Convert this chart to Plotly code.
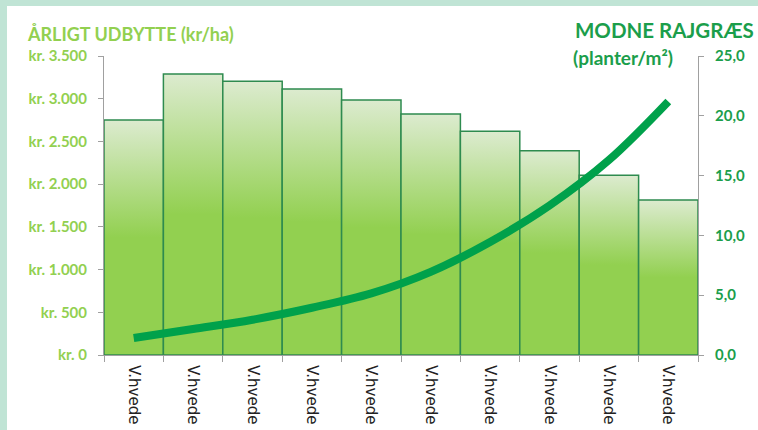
import plotly.graph_objects as go

categories = ["V.hvede"] * 10
yield_kr = [2750, 3290, 3205, 3115, 2985, 2820, 2620, 2390, 2105, 1815]
ryegrass = [1.42, 2.17, 2.95, 3.95, 5.15, 6.95, 9.45, 12.5, 16.3, 21.2]
left_ticks = [0, 500, 1000, 1500, 2000, 2500, 3000, 3500]
left_labels = ["kr. 0", "kr. 500", "kr. 1.000", "kr. 1.500", "kr. 2.000",
               "kr. 2.500", "kr. 3.000", "kr. 3.500"]
right_ticks = [0, 5, 10, 15, 20, 25]
right_labels = ["0,0", "5,0", "10,0", "15,0", "20,0", "25,0"]

LIGHT_GREEN = "#92d050"
DARK_GREEN = "#1b9e4b"
BAR_EDGE = "#2e8b4f"
MINT = "#c0e4d5"
AXIS_GRAY = "#a0a0a0"

xpos = list(range(len(categories)))

fig = go.Figure()

for i, v in zip(xpos, yield_kr):
    fig.add_trace(go.Scatter(
        x=[i - 0.5, i - 0.5, i + 0.5, i + 0.5, i - 0.5],
        y=[0, v, v, 0, 0],
        mode="lines",
        fill="toself",
        fillgradient=dict(type="vertical",
                          colorscale=[[0, LIGHT_GREEN], [0.5, LIGHT_GREEN], [1, "#dcebcf"]]),
        line=dict(color=BAR_EDGE, width=1.5),
        hoverinfo="skip",
        showlegend=False,
        yaxis="y",
    ))

fig.add_trace(go.Scatter(
    x=xpos, y=ryegrass, mode="lines", yaxis="y2",
    line=dict(color="#00a14b", width=8, shape="spline", smoothing=1.0),
    showlegend=False,
))

font_family = "Lato, 'Open Sans', sans-serif"

fig.update_layout(
    width=758, height=430,
    margin=dict(l=104, r=60, t=56, b=75),
    paper_bgcolor=MINT,
    plot_bgcolor="rgba(0,0,0,0)",
    showlegend=False,
    xaxis=dict(
        range=[-0.5, 9.5], tickmode="array", tickvals=xpos, ticktext=categories,
        tickangle=90, ticks="", showgrid=False, zeroline=False,
        showline=True, linecolor=AXIS_GRAY, linewidth=1,
        tickfont=dict(family="'DejaVu Sans', Verdana, sans-serif", size=15, color="#222222"),
        ticklabelstandoff=6,
        automargin=False, fixedrange=True,
        minor=dict(tickmode="array", tickvals=[i - 0.5 for i in range(11)],
                   ticks="outside", ticklen=6, tickcolor=AXIS_GRAY, showgrid=False),
    ),
    yaxis=dict(
        range=[0, 3500], tickmode="array", tickvals=left_ticks, ticktext=left_labels,
        ticks="outside", ticklen=5, tickcolor=AXIS_GRAY, showgrid=False, zeroline=False,
        showline=True, linecolor=AXIS_GRAY, linewidth=1,
        tickfont=dict(family=font_family, size=15, color=LIGHT_GREEN, weight="bold"),
        ticklabelstandoff=8,
        automargin=False,
    ),
    yaxis2=dict(
        range=[0, 25], overlaying="y", side="right", tickmode="array",
        tickvals=right_ticks, ticktext=right_labels,
        ticks="outside", ticklen=5, tickcolor=AXIS_GRAY, showgrid=False, zeroline=False,
        showline=True, linecolor=AXIS_GRAY, linewidth=1,
        tickfont=dict(family=font_family, size=15, color=DARK_GREEN, weight="bold"),
        ticklabelstandoff=8,
        automargin=False,
    ),
)

# white panel over mint background
fig.add_shape(type="rect", xref="paper", yref="paper", layer="below",
              x0=(7 - 104) / 594, x1=(770 - 104) / 594,
              y0=(355 - 440) / 299, y1=(355 - 6) / 299,
              fillcolor="white", line=dict(width=0))

fig.add_annotation(text="ÅRLIGT UDBYTTE (kr/ha)", xref="paper", yref="paper",
                   x=(25 - 104) / 594, y=(355 - 34) / 299, xanchor="left", yanchor="middle",
                   showarrow=False,
                   font=dict(family=font_family, size=18, color=LIGHT_GREEN, weight="bold"))
fig.add_annotation(text="MODNE RAJGRÆS", xref="paper", yref="paper",
                   x=(573 - 104) / 594, y=(355 - 30) / 299, xanchor="left", yanchor="middle",
                   showarrow=False,
                   font=dict(family=font_family, size=20.5, color=DARK_GREEN, weight="bold"))
fig.add_annotation(text="(planter/m²)", xref="paper", yref="paper",
                   x=(571 - 104) / 594, y=(355 - 57) / 299, xanchor="left", yanchor="middle",
                   showarrow=False,
                   font=dict(family=font_family, size=19, color=DARK_GREEN, weight="bold"))

fig.write_html("out.html")
